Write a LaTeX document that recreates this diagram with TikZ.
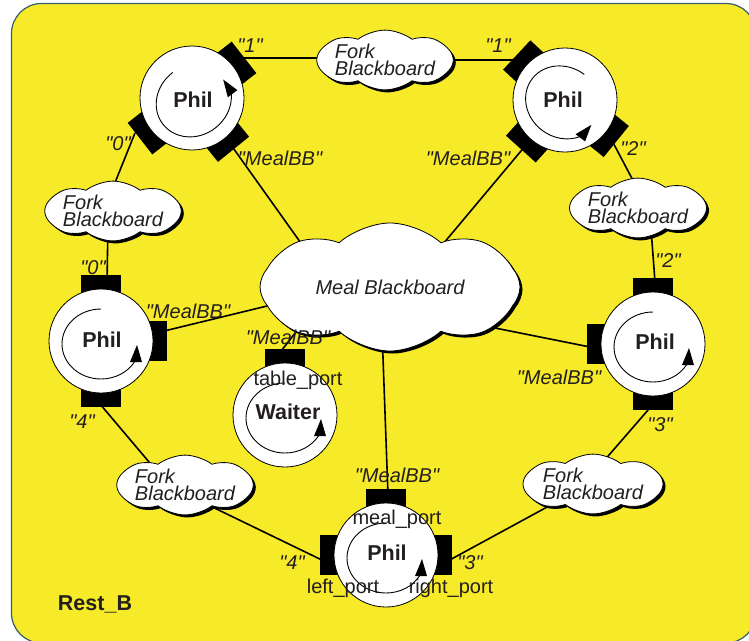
\documentclass[tikz,border=0pt]{standalone}
\usepackage{fontspec}
\setmainfont{Liberation Sans}[Ligatures=TeXOff]
\usetikzlibrary{shapes.symbols,shadows,calc}
\definecolor{bgyellow}{RGB}{247,234,40}
\definecolor{bgedge}{RGB}{52,94,110}
\definecolor{ink}{RGB}{35,31,32}
\newcommand\cycarrow[2]{%
  \begin{scope}[shift={(#1)}, rotate=#2]
    \draw[cyc] (0,32) arc[start angle=90, end angle=330, x radius=39, y radius=35];
    \fill (29,-21) -- (41,-21) -- (36,-4) -- cycle;
  \end{scope}}
\begin{document}
\begin{tikzpicture}[x=1pt,y=1pt,
  conn/.style={line width=1.6pt, draw=black},
  proc/.style={circle, draw=black, fill=white, line width=0.8pt, minimum size=104pt, inner sep=0pt},
  portbox/.style={rectangle, fill=black, minimum width=40pt, minimum height=26pt, inner sep=0pt},
  bb/.style={cloud, cloud puffs=8, cloud puff arc=75, cloud ignores aspect, draw=black, fill=white, line width=0.8pt,
    drop shadow={shadow xshift=2.5pt, shadow yshift=-2.5pt, opacity=1, fill=black},
    inner sep=0pt, align=left, font=\fontsize{20}{17}\selectfont\itshape, text=ink},
  cyc/.style={line width=0.9pt, draw=black},
  lbl/.style={font=\fontsize{20}{20}\selectfont\itshape, text=ink, inner sep=0pt},
  plbl/.style={font=\fontsize{20}{20}\selectfont, text=ink, inner sep=0pt},
  ttl/.style={font=\fontsize{21.5}{22}\selectfont\bfseries, text=ink, inner sep=0pt},
]
\useasboundingbox (0,0) rectangle (749,-640);
\begin{scope}
  \clip (0,0) rectangle (749,-640);
  \draw[fill=bgyellow, draw=bgedge, line width=1.2pt, rounded corners=30pt] (11.5,-3.5) rectangle (756,-643);
\end{scope}

% centres of the processes
\coordinate (ptl) at (192,-98);
\coordinate (ptr) at (565,-100);
\coordinate (pl) at (101,-341);
\coordinate (pr) at (653,-344);
\coordinate (pw) at (285,-415);
\coordinate (pb) at (386,-555);

% connector end points
\coordinate (a1) at (236,-58);  \coordinate (b1) at (340,-58);
\coordinate (a2) at (430,-60);  \coordinate (b2) at (520,-60);
\coordinate (a3) at (135,-133); \coordinate (b3) at (108,-200);
\coordinate (a4) at (108,-220); \coordinate (b4) at (107,-285);
\coordinate (a5) at (100,-404); \coordinate (b5) at (160,-475);
\coordinate (a6) at (200,-501); \coordinate (b6) at (326,-562);
\coordinate (a7) at (446,-562); \coordinate (b7) at (560,-500);
\coordinate (a8) at (596,-470); \coordinate (b8) at (655,-402);
\coordinate (a9) at (655,-282); \coordinate (b9) at (650,-215);
\coordinate (a10) at (609,-135); \coordinate (b10) at (646,-205);
\coordinate (m1a) at (231,-145); \coordinate (m1b) at (313,-260);
\coordinate (m2a) at (526,-145); \coordinate (m2b) at (438,-250);
\coordinate (m3a) at (160,-332); \coordinate (m3b) at (300,-298);
\coordinate (m4a) at (595,-348); \coordinate (m4b) at (460,-321);
\coordinate (m5a) at (278,-355); \coordinate (m5b) at (321,-300);
\coordinate (m6a) at (388,-495); \coordinate (m6b) at (382,-330);

\draw[conn] (a1) -- (b1);
\draw[conn] (a2) -- (b2);
\draw[conn] (a3) -- (b3);
\draw[conn] (a4) -- (b4);
\draw[conn] (a5) -- (b5);
\draw[conn] (a6) -- (b6);
\draw[conn] (a7) -- (b7);
\draw[conn] (a8) -- (b8);
\draw[conn] (a9) -- (b9);
\draw[conn] (a10) -- (b10);
\draw[conn] (m1a) -- (m1b);
\draw[conn] (m2a) -- (m2b);
\draw[conn] (m3a) -- (m3b);
\draw[conn] (m4a) -- (m4b);
\draw[conn] (m5a) -- (m5b);
\draw[conn] (m6a) -- (m6b);

% blackboards
\node[bb, minimum width=136pt, minimum height=46pt] (fbt) at (385,-60) {Fork\\Blackboard};
\node[bb, minimum width=130pt, minimum height=49pt] (fbl) at (113,-211) {Fork\\Blackboard};
\node[bb, minimum width=137pt, minimum height=49pt] (fbr) at (638,-208) {Fork\\Blackboard};
\node[bb, minimum width=132pt, minimum height=47pt] (fbbl) at (185,-485) {Fork\\Blackboard};
\node[bb, minimum width=140pt, minimum height=50pt] (fbbr) at (593,-484) {Fork\\Blackboard};
\node[bb, minimum width=260pt, minimum height=128pt, cloud puffs=8, cloud puff arc=85] (meal) at (390,-287) {Meal Blackboard};

% ports
\node[portbox, rotate=-52] (tl1) at ([shift={(38:53)}]ptl) {};
\node[portbox, rotate=128] (tl0) at ([shift={(218:53)}]ptl) {};
\node[portbox, rotate=219] (tlm) at ([shift={(309:53)}]ptl) {};
\node[portbox, rotate=47] (tr1) at ([shift={(137:53)}]ptr) {};
\node[portbox, rotate=138] (trm) at ([shift={(228:53)}]ptr) {};
\node[portbox, rotate=231] (tr2) at ([shift={(321:53)}]ptr) {};
\node[portbox] (l0) at ([shift={(90:53)}]pl) {};
\node[portbox, rotate=90] (lm) at ([shift={(0:53)}]pl) {};
\node[portbox] (l4) at ([shift={(270:53)}]pl) {};
\node[portbox] (r2) at ([shift={(90:53)}]pr) {};
\node[portbox, rotate=90] (rm) at ([shift={(180:53)}]pr) {};
\node[portbox] (r3) at ([shift={(270:53)}]pr) {};
\node[portbox] (wm) at ([shift={(90:53)}]pw) {};
\node[portbox] (bm) at ([shift={(90:53)}]pb) {};
\node[portbox, rotate=90] (bl) at ([shift={(180:53)}]pb) {};
\node[portbox, rotate=90] (br) at ([shift={(0:53)}]pb) {};

% processes
\node[proc] (philtl) at (ptl) {};
\node[proc] (philtr) at (ptr) {};
\node[proc] (phill) at (pl) {};
\node[proc] (philr) at (pr) {};
\node[proc] (waiter) at (pw) {};
\node[proc] (philb) at (pb) {};
\cycarrow{ptl}{37}
\cycarrow{ptr}{-37}
\cycarrow{pl}{0}
\cycarrow{pr}{0}
\cycarrow{pw}{0}
\cycarrow{pb}{0}

% texts
\node[ttl] (n1) at (193,-100) {Phil};
\node[ttl] (n2) at (563,-100) {Phil};
\node[ttl] (n3) at (102,-340) {Phil};
\node[ttl] (n4) at (655,-342) {Phil};
\node[ttl] (n5) at (288,-412) {Waiter};
\node[ttl] (n6) at (387,-553) {Phil};
\node[ttl] (n7) at (95,-604) {Rest\_B};

\node[lbl] (q1) at (250,-46) {"1"};
\node[lbl] (q2) at (498,-46) {"1"};
\node[lbl] (q3) at (118,-144) {"0"};
\node[lbl] (q4) at (280,-158) {"MealBB"};
\node[lbl] (q5) at (468,-158) {"MealBB"};
\node[lbl] (q6) at (633,-149) {"2"};
\node[lbl] (q7) at (93,-268) {"0"};
\node[lbl] (q8) at (188,-311) {"MealBB"};
\node[lbl] (q9) at (82,-422) {"4"};
\node[lbl] (q10) at (668,-261) {"2"};
\node[lbl] (q11) at (559,-377) {"MealBB"};
\node[lbl] (q12) at (660,-425) {"3"};
\node[lbl] (q13) at (288,-337) {"MealBB"};
\node[lbl] (q14) at (397,-475) {"MealBB"};
\node[lbl] (q15) at (292,-563) {"4"};
\node[lbl] (q16) at (470,-563) {"3"};

\node[plbl] (s1) at (298,-380) {table\_port};
\node[plbl] (s2) at (397,-519) {meal\_port};
\node[plbl] (s3) at (343,-588) {left\_port};
\node[plbl] (s4) at (451,-588) {right\_port};
\end{tikzpicture}
\end{document}
